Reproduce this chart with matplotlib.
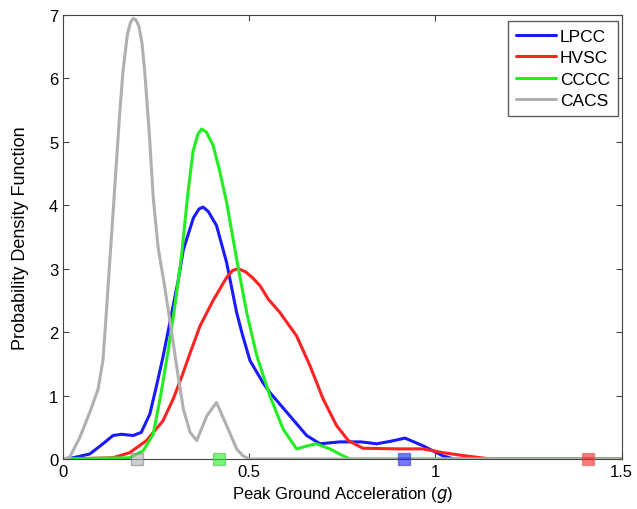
import numpy as np
import matplotlib
matplotlib.use("Agg")
import matplotlib.pyplot as plt

plt.rcParams['font.family'] = ['Liberation Sans', 'DejaVu Sans']

# curves
lpcc_x = [0.0, 0.027, 0.072, 0.107, 0.134, 0.157, 0.188, 0.21, 0.233, 0.25, 0.268, 0.286,
          0.309, 0.323, 0.35, 0.365, 0.376, 0.39, 0.412, 0.439, 0.466, 0.482, 0.502, 0.537,
          0.555, 0.609, 0.654, 0.69, 0.743, 0.80, 0.842, 0.88, 0.918, 0.966, 1.02, 1.05, 1.5]
lpcc_y = [0.0, 0.02, 0.08, 0.24, 0.37, 0.39, 0.37, 0.42, 0.71, 1.13, 1.6, 2.13,
          2.81, 3.3, 3.8, 3.94, 3.97, 3.9, 3.68, 3.1, 2.31, 1.95, 1.55, 1.2,
          1.05, 0.68, 0.37, 0.24, 0.27, 0.27, 0.24, 0.28, 0.33, 0.21, 0.05, 0.0, 0.0]

hvsc_x = [0.0, 0.134, 0.179, 0.224, 0.268, 0.296, 0.32, 0.343, 0.368, 0.403, 0.439, 0.455,
          0.47, 0.49, 0.51, 0.529, 0.551, 0.582, 0.627, 0.663, 0.698, 0.734, 0.766, 0.805,
          0.896, 0.966, 1.02, 1.08, 1.15, 1.5]
hvsc_y = [0.0, 0.02, 0.1, 0.29, 0.6, 0.95, 1.32, 1.7, 2.1, 2.5, 2.86, 2.97,
          3.0, 2.95, 2.85, 2.73, 2.52, 2.31, 1.94, 1.47, 0.95, 0.53, 0.29, 0.17,
          0.16, 0.16, 0.1, 0.05, 0.0, 0.0]

cccc_x = [0.0, 0.179, 0.215, 0.242, 0.262, 0.282, 0.3, 0.318, 0.335, 0.349, 0.362, 0.372,
          0.385, 0.403, 0.42, 0.439, 0.466, 0.493, 0.52, 0.555, 0.591, 0.627, 0.658, 0.68,
          0.716, 0.752, 0.77, 1.5]
cccc_y = [0.0, 0.02, 0.13, 0.39, 1.0, 1.7, 2.4, 3.2, 4.18, 4.85, 5.12, 5.2,
          5.15, 4.94, 4.55, 4.05, 3.15, 2.31, 1.63, 1.0, 0.47, 0.16, 0.21, 0.24,
          0.16, 0.05, 0.0, 0.0]

cacs_x = [0.0, 0.018, 0.045, 0.072, 0.094, 0.107, 0.116, 0.125, 0.134, 0.143, 0.152, 0.161,
          0.173, 0.181, 0.188, 0.196, 0.204, 0.212, 0.219, 0.231, 0.242, 0.255, 0.273, 0.291,
          0.309, 0.323, 0.341, 0.359, 0.386, 0.412, 0.439, 0.466, 0.483, 0.5, 1.5]
cacs_y = [0.0, 0.03, 0.34, 0.74, 1.1, 1.55, 2.29, 3.08, 3.86, 4.65, 5.44, 6.12,
          6.7, 6.88, 6.94, 6.92, 6.81, 6.55, 6.12, 5.18, 4.13, 3.34, 2.71, 2.02,
          1.3, 0.79, 0.42, 0.29, 0.68, 0.89, 0.53, 0.16, 0.05, 0.0, 0.0]

names = ['LPCC', 'HVSC', 'CCCC', 'CACS']
colors = ['#1a1aff', '#ff2222', '#22ee22', '#b0b0b0']
marker_x = [0.915, 1.41, 0.419, 0.199]
edge_colors = ['#4040c0', '#d06060', '#50c050', '#808080']

fig = plt.figure(figsize=(6.37, 5.1), dpi=100)
ax = fig.add_axes([0.099, 0.098, 0.877, 0.871])

curves = [(lpcc_x, lpcc_y), (hvsc_x, hvsc_y), (cccc_x, cccc_y), (cacs_x, cacs_y)]
for (xs, ys), name, c in zip(curves, names, colors):
    ax.plot(xs, ys, color=c, lw=2.2, label=name, solid_joinstyle='round',
            solid_capstyle='round')

for mx, c, ec in zip(marker_x, colors, edge_colors):
    ax.plot([mx], [0], 's', ms=8.5, color=c, alpha=0.6, mec=ec, clip_on=False, zorder=5)

ax.set_xlim(0, 1.5)
ax.set_ylim(0, 7)
ax.set_xticks([0, 0.5, 1, 1.5])
ax.set_xticklabels(['0', '0.5', '1', '1.5'])
ax.set_yticks(range(8))
ax.tick_params(direction='in', top=True, right=True, labelsize=12, length=4, color='#444444')
for s in ax.spines.values():
    s.set_color('#444444')

ax.set_xlabel('Peak Ground Acceleration ($g$)', fontsize=12)
ax.set_ylabel('Probability Density Function', fontsize=13, labelpad=14)

leg = ax.legend(loc='upper right', bbox_to_anchor=(0.993, 0.9865), fontsize=12.5,
                handlelength=2.3, handletextpad=0.25, labelspacing=0.36,
                borderaxespad=0.0, fancybox=False, borderpad=0.45)
leg.get_frame().set_edgecolor('#333333')
leg.get_frame().set_linewidth(1.0)

fig.savefig('out.png', dpi=100)
